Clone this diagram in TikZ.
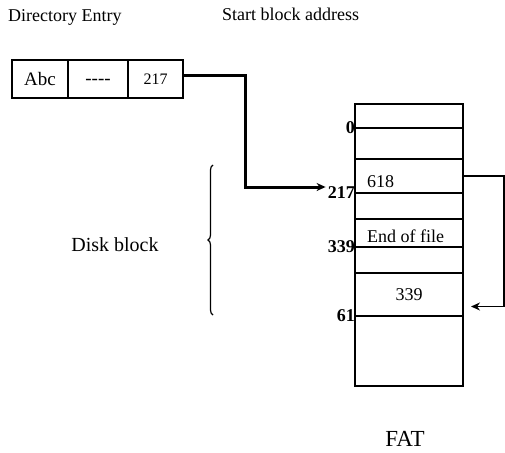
\documentclass[tikz,border=0pt]{standalone}
\usepackage{fontspec}
\setmainfont{Liberation Serif}
\usetikzlibrary{positioning, arrows.meta, decorations.pathreplacing}

\begin{document}
\begin{tikzpicture}[
    x=1pt, y=-1pt,
    cell/.style={draw, rectangle, line width=1.3pt, minimum height=38pt, inner sep=0pt, outer sep=0pt, font=\fontsize{19}{21}\selectfont},
    row/.style={draw, rectangle, line width=1.3pt, minimum width=108pt, inner sep=0pt, outer sep=0pt},
    val/.style={inner sep=0pt, font=\fontsize{18}{20}\selectfont},
    addr/.style={inner sep=0pt, font=\fontsize{18}{20}\selectfont\bfseries},
    title/.style={inner sep=0pt, font=\fontsize{18}{20}\selectfont},
    arr/.style={-{Stealth[length=9pt, width=8pt]}, line width=3pt},
    thinarr/.style={-{Stealth[length=9pt, width=8pt]}, line width=1.2pt}
]
    \useasboundingbox (0,0) rectangle (505,452);

    % headings
    \node[title, anchor=base west] (dirlbl) at (8,22) {Directory Entry};
    \node[title, anchor=base west] (startlbl) at (222,21) {Start block address};

    % directory entry
    \node[cell, minimum width=56pt] (name) at (40,79) {Abc};
    \node[cell, minimum width=60pt, text height=6pt, text depth=0pt] (dash) [right=0pt of name] {\raisebox{-2pt}{-{}-{}-{}-}};
    \node[cell, minimum width=55pt, font=\fontsize{16}{18}\selectfont] (start) [right=0pt of dash] {217};

    % FAT table
    \node[row, minimum height=24pt, anchor=north] (fat1) at (409,104) {};
    \node[row, minimum height=31pt] (fat2) [below=0pt of fat1] {};
    \node[row, minimum height=34pt] (fat3) [below=0pt of fat2] {};
    \node[row, minimum height=26pt] (fat4) [below=0pt of fat3] {};
    \node[row, minimum height=28pt] (fat5) [below=0pt of fat4] {};
    \node[row, minimum height=26pt] (fat6) [below=0pt of fat5] {};
    \node[row, minimum height=43pt, font=\fontsize{18}{20}\selectfont] (fat7) [below=0pt of fat6] {\raisebox{-3pt}{339}};
    \node[row, minimum height=70pt] (fat8) [below=0pt of fat7] {};

    \node[val, above right=5pt and 12pt of fat3.south west] (v618) {618};
    \node[val, above right=4pt and 12pt of fat5.south west] (veof) {End of file};

    % block numbers
    \node[addr, anchor=east] (a0) at (fat1.south west) {0};
    \node[addr, anchor=east] (a217) at (fat3.south west) {217};
    \node[addr, anchor=east] (a339) at (fat5.south west) {339};
    \node[addr, anchor=east] (a61) at (fat7.south west) {61};

    % disk block
    \draw[line width=1.2pt, decorate, decoration={brace, amplitude=5pt}] (213,315) -- (213,165);
    \node[font=\fontsize{20}{22}\selectfont, inner sep=0pt] (disk) at (115,245) {Disk block};

    \node[font=\fontsize{23}{25}\selectfont, inner sep=0pt, anchor=base] (fat) at (405,446) {FAT};

    % links
    \draw[arr] ([yshift=4pt]start.east) -- ++(62pt,0) |- ([xshift=-2pt, yshift=6pt]a217.west);
    \draw[thinarr] (fat3.east) -- ++(41pt,0) |- ([xshift=8pt, yshift=-12pt]fat7.east);
\end{tikzpicture}
\end{document}
